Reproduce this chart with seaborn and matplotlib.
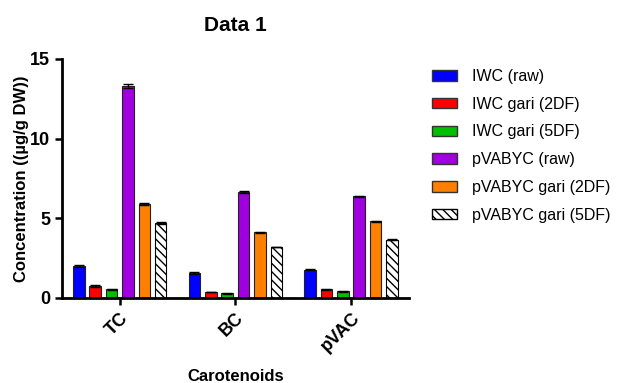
import matplotlib
matplotlib.use("Agg")
import matplotlib.pyplot as plt
import matplotlib.patches as mpatches
import pandas as pd
import seaborn as sns

categories = ["TC", "BC", "pVAC"]
samples = [
    "IWC (raw)",
    "IWC gari (2DF)",
    "IWC gari (5DF)",
    "pVABYC (raw)",
    "pVABYC gari (2DF)",
    "pVABYC gari (5DF)",
]
colors = ["#0000ff", "#ff0000", "#00c000", "#a000e0", "#ff8000", "#ffffff"]

# mean values per sample, in category order TC, BC, pVAC
iwc_raw = [2.0, 1.55, 1.78]
iwc_2df = [0.75, 0.38, 0.55]
iwc_5df = [0.55, 0.30, 0.42]
pva_raw = [13.3, 6.65, 6.38]
pva_2df = [5.88, 4.12, 4.80]
pva_5df = [4.69, 3.20, 3.67]

# error (sd)
iwc_raw_err = [0.04, 0.06, 0.03]
iwc_2df_err = [0.04, 0.02, 0.02]
iwc_5df_err = [0.02, 0.02, 0.02]
pva_raw_err = [0.1, 0.08, 0.02]
pva_2df_err = [0.05, 0.03, 0.03]
pva_5df_err = [0.06, 0.02, 0.02]

means = [iwc_raw, iwc_2df, iwc_5df, pva_raw, pva_2df, pva_5df]
errs = [iwc_raw_err, iwc_2df_err, iwc_5df_err, pva_raw_err, pva_2df_err, pva_5df_err]

rows = []
for s, vals in zip(samples, means):
    for c, v in zip(categories, vals):
        rows.append({"carotenoid": c, "sample": s, "conc": v})
df = pd.DataFrame(rows)

sns.set_style("ticks")
plt.rcParams["font.family"] = ["Liberation Sans", "DejaVu Sans"]
for k in ["text.color", "axes.labelcolor", "xtick.color", "ytick.color", "axes.edgecolor"]:
    plt.rcParams[k] = "black"

fig = plt.figure(figsize=(6.18, 3.83), dpi=100)
ax = fig.add_axes([0.1003, 0.222, 0.5612, 0.624])

sns.barplot(
    data=df,
    x="carotenoid",
    y="conc",
    hue="sample",
    order=categories,
    hue_order=samples,
    palette=colors,
    saturation=1,
    width=0.85,
    gap=0.3,
    edgecolor="#222222",
    linewidth=0.8,
    errorbar=None,
    legend=False,
    ax=ax,
)

# hatch the last series
for p in ax.containers[5]:
    p.set_facecolor("white")
    p.set_hatch("\\\\\\\\")
    p.set_edgecolor("black")

# error bars on top of bars
for cont, e in zip(ax.containers, errs):
    xs = [p.get_x() + p.get_width() / 2 for p in cont]
    ys = [p.get_height() for p in cont]
    ax.errorbar(xs, ys, yerr=e, fmt="none", ecolor="black",
                elinewidth=1, capsize=3.5, capthick=1, zorder=5)

ax.set_xlim(-0.5, 2.5)
ax.set_ylim(0, 15)
ax.set_yticks([0, 5, 10, 15])
for side in ["top", "right"]:
    ax.spines[side].set_visible(False)
for side in ["left", "bottom"]:
    ax.spines[side].set_linewidth(2)
ax.tick_params(axis="both", width=1.8, length=5, labelsize=13)
for lab in ax.get_yticklabels():
    lab.set_fontweight("bold")
ax.set_xticks(range(len(categories)))
ax.set_xticklabels(categories, rotation=45, ha="right", rotation_mode="anchor",
                   fontweight="bold", fontsize=13)

ax.set_xlabel("Carotenoids", fontweight="bold", fontsize=12, labelpad=10)
ax.set_ylabel("Concentration ((µg/g DW))", fontweight="bold", fontsize=12, labelpad=1)
ax.set_title("Data 1", fontweight="bold", fontsize=15, pad=20)

handles = []
for s, c in zip(samples, colors):
    if s == "pVABYC gari (5DF)":
        h = mpatches.Patch(facecolor="white", edgecolor="black", hatch="\\\\\\\\", label=s)
    else:
        h = mpatches.Patch(facecolor=c, edgecolor="#333333", linewidth=1, label=s)
    handles.append(h)
fig.legend(handles=handles, loc="upper left", bbox_to_anchor=(0.699, 0.82),
           frameon=False, fontsize=11.5, handlelength=1.56, handleheight=0.63,
           handletextpad=0.95, labelspacing=0.8, borderpad=0, borderaxespad=0)

fig.savefig("out.png", dpi=100)
